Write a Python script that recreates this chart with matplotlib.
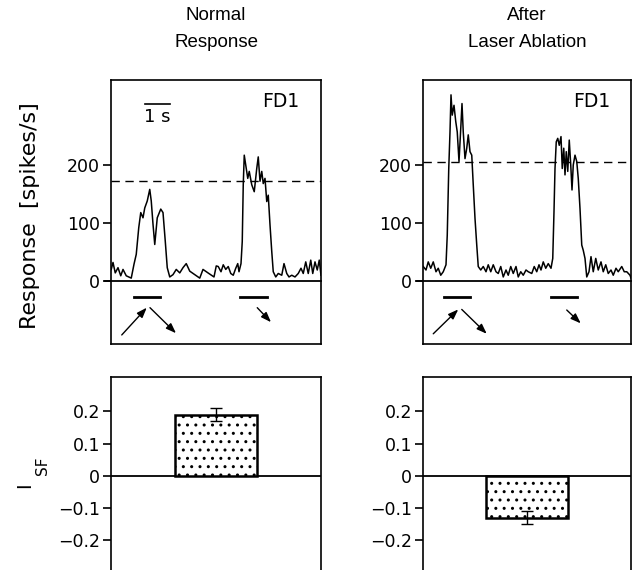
import matplotlib
matplotlib.use("Agg")
import matplotlib.pyplot as plt
from matplotlib.patches import FancyArrowPatch

plt.rcParams['font.family'] = ['DejaVu Sans']
plt.rcParams['hatch.linewidth'] = 1.0

# ---------------- data ----------------
titles = ["Normal\nResponse", "After\nLaser Ablation"]
cell_label = "FD1"

t_normal = [0.01, 0.08, 0.17, 0.28, 0.39, 0.48, 0.61, 0.81, 0.92, 1.01, 1.11, 1.19, 1.28,
            1.35, 1.45, 1.55, 1.61, 1.68, 1.75, 1.85, 1.99, 2.08, 2.17, 2.25, 2.35, 2.48,
            2.61, 2.75, 2.88, 3.01, 3.15, 3.35, 3.55, 3.68, 3.88, 4.12, 4.21, 4.29, 4.40,
            4.49, 4.59, 4.69, 4.79, 4.89, 4.99, 5.07, 5.12, 5.20, 5.25, 5.29, 5.33, 5.40,
            5.47, 5.53, 5.63, 5.73, 5.83, 5.89, 5.96, 6.03, 6.09, 6.16, 6.23, 6.29, 6.36,
            6.43, 6.49, 6.59, 6.69, 6.83, 6.92, 7.03, 7.12, 7.23, 7.36, 7.49, 7.60, 7.69,
            7.79, 7.89, 7.99, 8.07, 8.16, 8.25, 8.33, 8.40]
r_normal = [20, 32, 14, 23, 9, 20, 9, 5, 29, 46, 92, 118, 109,
            126, 138, 158, 138, 98, 63, 109, 124, 118, 69, 23, 7, 11,
            20, 14, 23, 30, 17, 11, 5, 20, 14, 7, 26, 25, 16,
            28, 20, 25, 13, 10, 22, 30, 16, 30, 68, 166, 217, 197,
            177, 189, 166, 154, 194, 214, 172, 189, 168, 177, 137, 148, 97,
            51, 16, 7, 13, 10, 30, 13, 7, 10, 7, 13, 22, 13,
            33, 13, 36, 13, 33, 19, 36, 10]

t_ablation = [0.01, 0.12, 0.21, 0.31, 0.41, 0.52, 0.61, 0.71, 0.81, 0.92, 0.97, 1.03, 1.08,
              1.12, 1.17, 1.24, 1.31, 1.37, 1.44, 1.51, 1.56, 1.61, 1.68, 1.75, 1.81, 1.88,
              1.95, 2.01, 2.08, 2.15, 2.21, 2.31, 2.41, 2.52, 2.61, 2.71, 2.81, 2.92, 3.01,
              3.11, 3.21, 3.32, 3.41, 3.51, 3.61, 3.72, 3.81, 3.91, 4.01, 4.12, 4.21, 4.35,
              4.45, 4.55, 4.64, 4.72, 4.81, 4.91, 5.01, 5.12, 5.19, 5.24, 5.28, 5.33, 5.39,
              5.45, 5.52, 5.57, 5.63, 5.68, 5.73, 5.79, 5.85, 5.91, 5.96, 6.01, 6.08, 6.15,
              6.21, 6.28, 6.35, 6.41, 6.48, 6.55, 6.64, 6.72, 6.81, 6.91, 7.01, 7.12, 7.21,
              7.31, 7.41, 7.52, 7.61, 7.72, 7.81, 7.95, 8.05, 8.15, 8.28, 8.32]
r_ablation = [25, 19, 33, 22, 33, 16, 22, 10, 16, 28, 79, 194, 257,
              321, 286, 303, 275, 257, 206, 263, 306, 257, 211, 229, 252, 223,
              217, 166, 108, 62, 25, 19, 25, 16, 28, 16, 28, 16, 13,
              25, 7, 19, 10, 25, 13, 25, 7, 16, 10, 19, 16, 13,
              25, 16, 28, 19, 33, 22, 30, 22, 39, 120, 194, 240, 246,
              234, 249, 194, 229, 183, 223, 189, 243, 200, 157, 200, 217, 206,
              177, 125, 62, 53, 39, 7, 16, 42, 16, 39, 19, 33, 16,
              28, 13, 19, 10, 22, 16, 25, 16, 16, 10, 5]

threshold = [172, 205]                 # dashed reference levels
stim_bars = [[(0.92, 1.96), (5.16, 6.24)],
             [(0.84, 1.88), (5.12, 6.16)]]
stim_level = -28
# arrows: (t_start, r_start, t_end, r_end)
arrows = [[(0.43, -93, 1.43, -46), (1.56, -46, 2.60, -90), (5.85, -46, 6.40, -71)],
          [(0.41, -91, 1.41, -49), (1.55, -49, 2.55, -91), (5.75, -50, 6.31, -73)]]
t_max = [8.4, 8.32]
scale_bar = (1.36, 2.36, 305)          # 1 s bar

isf_values = [0.19, -0.13]
isf_errors = [0.02, 0.02]

resp_ticks = [0, 100, 200]
isf_ticks = [-0.2, -0.1, 0, 0.1, 0.2]
isf_ticklabels = ["\u22120.2", "\u22120.1", "0", "0.1", "0.2"]

# ---------------- figure ----------------
W, H = 641, 570
fig = plt.figure(figsize=(W / 100, H / 100), dpi=100)

lefts = [111, 423]
widths = [210, 208]
traces = [(t_normal, r_normal), (t_ablation, r_ablation)]

def fx(px):
    return px / W

def fy(py):
    return 1 - py / H

for i in range(2):
    # ---- top trace panel ----
    ax = fig.add_axes([fx(lefts[i]), fy(344), widths[i] / W, (344 - 80) / H])
    t, r = traces[i]
    ax.plot(t, r, color='black', lw=1.1)
    ax.axhline(0, color='black', lw=1.3, xmin=-0.03, clip_on=False)
    ax.axhline(threshold[i], color='black', lw=1.0, dashes=(6, 4))
    for (a, b) in stim_bars[i]:
        ax.plot([a, b], [stim_level, stim_level], color='black', lw=2)
    for (x0, y0, x1, y1) in arrows[i]:
        arr = FancyArrowPatch((x0, y0), (x1, y1),
                              arrowstyle='-|>,head_length=6,head_width=2.2',
                              color='black', lw=1.0, shrinkA=0, shrinkB=0)
        ax.add_patch(arr)
    ax.set_xlim(0, t_max[i])
    ax.set_ylim(-108.6, 346.6)
    ax.set_xticks([])
    ax.set_yticks(resp_ticks)
    ax.tick_params(axis='y', direction='out', length=6, width=1.2, labelsize=12.5, pad=2)
    for s in ax.spines.values():
        s.set_linewidth(1.2)
    ax.text(0.81, 0.92, cell_label, transform=ax.transAxes, ha='center', va='center',
            fontsize=13.5)
    if i == 0:
        ax.plot([scale_bar[0], scale_bar[1]], [scale_bar[2], scale_bar[2]],
                color='black', lw=1.2)
        ax.text((scale_bar[0] + scale_bar[1]) / 2, scale_bar[2] - 7, "1 s",
                ha='center', va='top', fontsize=13)
    # title
    fig.text(fx(lefts[i] + widths[i] / 2), fy(29), titles[i], ha='center', va='center',
             fontsize=13.5, linespacing=1.75, family=['Liberation Sans', 'DejaVu Sans'])

    # ---- bottom I_SF panel ----
    bx = fig.add_axes([fx(lefts[i]), 0, widths[i] / W, (570 - 377) / H])
    bx.bar([0], [isf_values[i]], width=0.39, color='white', edgecolor='black',
           hatch='..', lw=1.8, zorder=2)
    bx.errorbar([0], [isf_values[i]], yerr=[isf_errors[i]], fmt='none', ecolor='black',
                elinewidth=1.0, capsize=4, capthick=1.0, zorder=3)
    bx.axhline(0, color='black', lw=1.3, zorder=1)
    bx.set_xlim(-0.5, 0.5)
    bx.set_ylim(-0.292, 0.307)
    bx.set_xticks([])
    bx.set_yticks(isf_ticks)
    bx.set_yticklabels(isf_ticklabels)
    bx.tick_params(axis='y', direction='out', length=6, width=1.2, labelsize=12.5, pad=2)
    bx.spines['bottom'].set_visible(False)
    for s in ['left', 'top', 'right']:
        bx.spines[s].set_linewidth(1.2)

# axis labels placed as figure text
fig.text(fx(30), fy(216), "Response  [spikes/s]", rotation=90, ha='center', va='center',
         fontsize=16)
fig.text(fx(25), fy(485), "I", rotation=90, ha='center', va='center', fontsize=14)
fig.text(fx(43), fy(466), "SF", rotation=90, ha='center', va='center', fontsize=11)

fig.savefig("out.png", dpi=100)
